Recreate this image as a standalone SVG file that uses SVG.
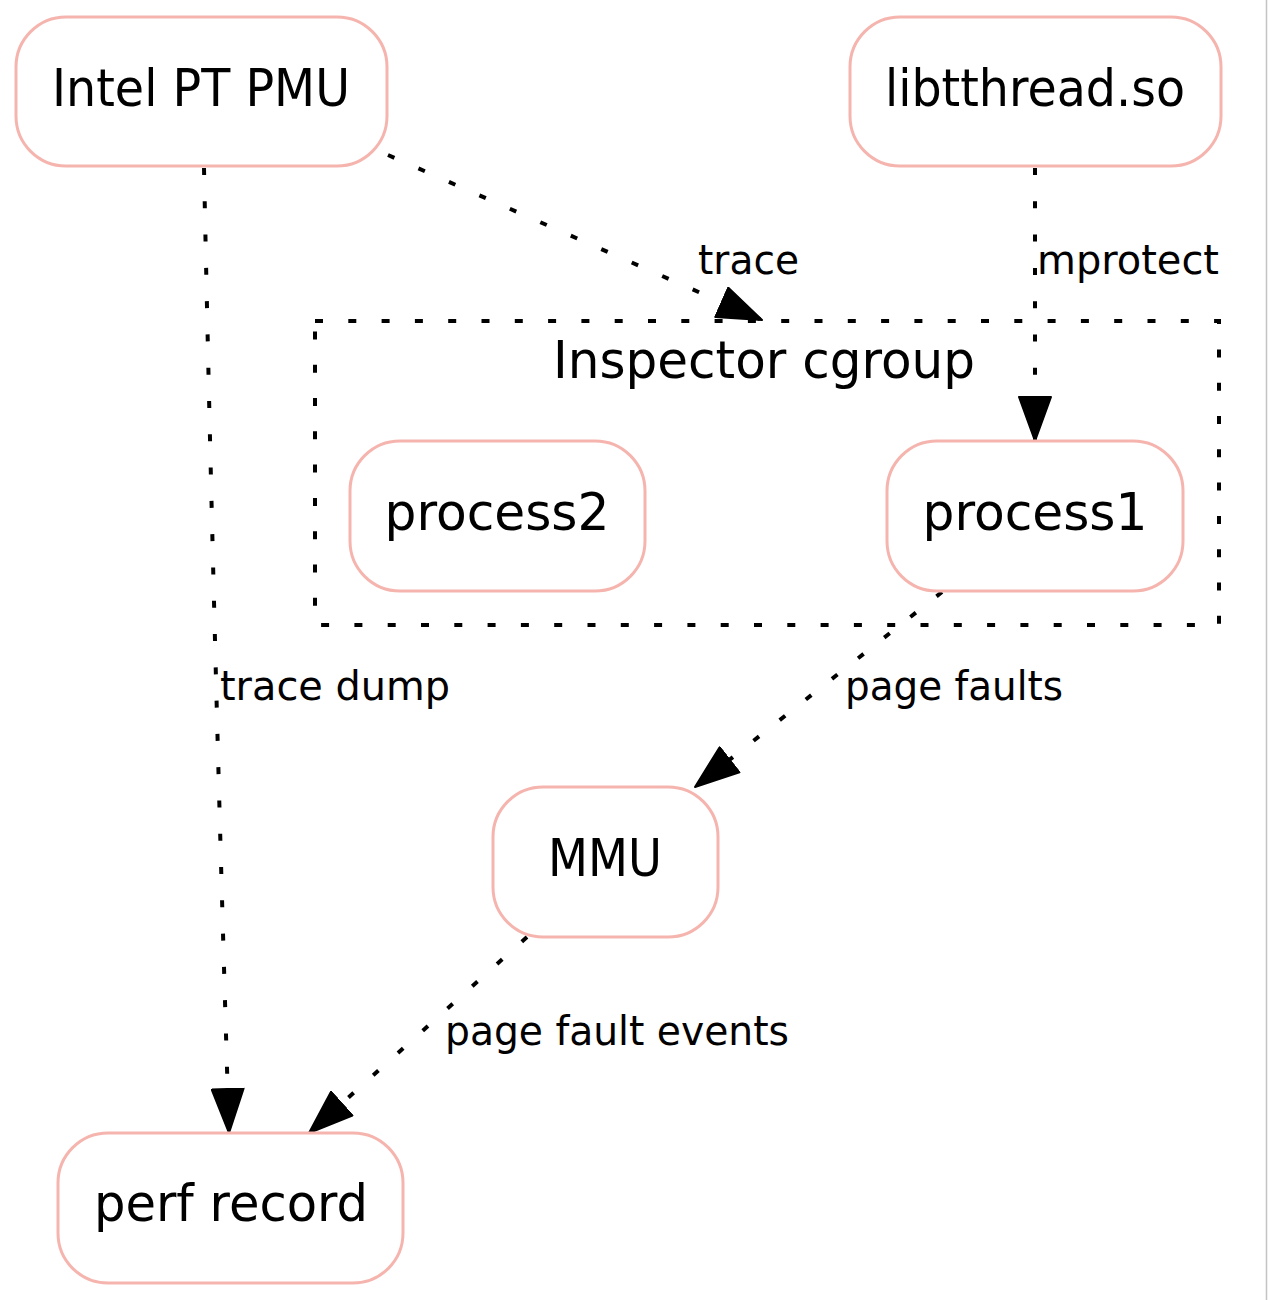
<svg xmlns="http://www.w3.org/2000/svg" width="1269" height="1300" viewBox="0 0 1269 1300">
<style>
.node rect{fill:#fff;stroke:#f5b5ae;stroke-width:3}
.ntext{font-family:"DejaVu Sans",sans-serif;font-size:52px;fill:#000;text-anchor:middle}
.etext{font-family:"DejaVu Sans",sans-serif;font-size:41px;fill:#000}
.edge{fill:none;stroke:#000;stroke-width:4;stroke-dasharray:7,26.3}
.cluster{fill:none;stroke:#000;stroke-width:4;stroke-dasharray:8,25.3}
</style>
<defs>
<marker id="arr" viewBox="0 0 46 34" refX="45" refY="17" markerWidth="46" markerHeight="34" orient="auto" markerUnits="userSpaceOnUse">
<path d="M1,1 L45,17 L1,33 Z" fill="#000" stroke="#000" stroke-width="2" stroke-linejoin="round"/>
</marker>
</defs>
<rect x="0" y="0" width="1269" height="1300" fill="#fff"/>
<line x1="1266.5" y1="0" x2="1266.5" y2="1300" stroke="#c4c4c4" stroke-width="1.5"/>
<g id="cluster_inspector">
<rect class="cluster" x="315" y="321" width="904" height="304"/>
<text class="ntext" x="764" y="378" textLength="422" lengthAdjust="spacingAndGlyphs">Inspector cgroup</text>
</g>
<g id="edges">
<path class="edge" d="M204,168 Q214,650 229,1133" marker-end="url(#arr)"/>
<path class="edge" d="M388,155 L762,320" marker-end="url(#arr)"/>
<path class="edge" d="M1035,168 L1035,441" marker-end="url(#arr)"/>
<path class="edge" d="M942,592 L695,787" marker-end="url(#arr)"/>
<path class="edge" d="M527,937 L309,1133" marker-end="url(#arr)"/>
<text class="etext" x="698" y="274" textLength="101" lengthAdjust="spacingAndGlyphs">trace</text>
<text class="etext" x="1037" y="274" textLength="182" lengthAdjust="spacingAndGlyphs">mprotect</text>
<text class="etext" x="220" y="700" textLength="230" lengthAdjust="spacingAndGlyphs">trace dump</text>
<text class="etext" x="845" y="700" textLength="218" lengthAdjust="spacingAndGlyphs">page faults</text>
<text class="etext" x="445" y="1045" textLength="344" lengthAdjust="spacingAndGlyphs">page fault events</text>
</g>
<g id="intel_pt_pmu" class="node">
<rect x="16" y="17" width="371" height="149" rx="50" ry="50"/>
<text class="ntext" x="201" y="106" textLength="298" lengthAdjust="spacingAndGlyphs">Intel PT PMU</text>
</g>
<g id="libtthread" class="node">
<rect x="850" y="17" width="371" height="149" rx="50" ry="50"/>
<text class="ntext" x="1035" y="106" textLength="300" lengthAdjust="spacingAndGlyphs">libtthread.so</text>
</g>
<g id="process2" class="node">
<rect x="350" y="441" width="295" height="150" rx="50" ry="50"/>
<text class="ntext" x="497" y="530" textLength="225" lengthAdjust="spacingAndGlyphs">process2</text>
</g>
<g id="process1" class="node">
<rect x="887" y="441" width="296" height="150" rx="50" ry="50"/>
<text class="ntext" x="1035" y="530" textLength="225" lengthAdjust="spacingAndGlyphs">process1</text>
</g>
<g id="mmu" class="node">
<rect x="493" y="787" width="225" height="150" rx="50" ry="50"/>
<text class="ntext" x="605" y="876" textLength="114" lengthAdjust="spacingAndGlyphs">MMU</text>
</g>
<g id="perf_record" class="node">
<rect x="58" y="1133" width="345" height="150" rx="50" ry="50"/>
<text class="ntext" x="231" y="1221" textLength="274" lengthAdjust="spacingAndGlyphs">perf record</text>
</g>
</svg>
